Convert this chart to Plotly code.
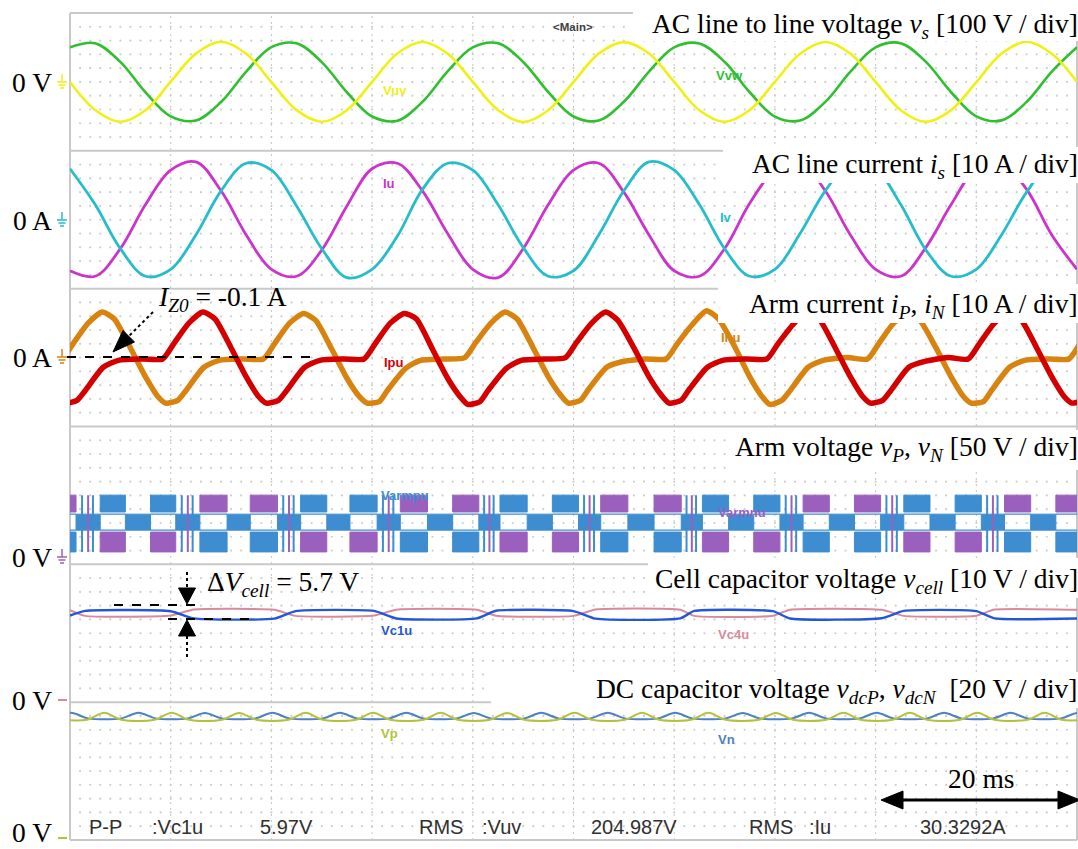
import plotly.graph_objects as go
import numpy as np

# ======================= DATA =======================
# time axis: ms, 10 ms / div
T_AC = [0, 2.5, 5, 7.5, 10, 12.5, 15, 17.5, 20, 22.5, 25, 27.5, 30, 32.5, 35, 37.5, 40,
        42.5, 45, 47.5, 50, 52.5, 55, 57.5, 60, 62.5, 65, 67.5, 70, 72.5, 75, 77.5, 80,
        82.5, 85, 87.5, 90, 92.5, 95, 97.5, 100]
# AC line-to-line voltages [V]
V_UV = [0, -204, -290, -206, 2, 205, 291, 204, -1, -205, -289, -205, 0, 206, 290, 205,
        1, -204, -291, -205, -1, 205, 289, 206, 0, -206, -290, -204, 1, 204, 290, 205,
        0, -205, -290, -205, -2, 205, 291, 204, 0]
V_VW = [251, 281, 145, -76, -250, -280, -146, 75, 252, 280, 144, -75, -251, -281, -145, 76,
        250, 280, 145, -74, -251, -280, -144, 75, 251, 279, 146, -75, -252, -280, -145, 74,
        251, 281, 145, -75, -250, -279, -145, 75, 251]
# AC line currents [A]
I_U = [-37, -41, -21, 11, 36, 42, 21, -11, -36, -41, -22, 10, 37, 41, 21, -10,
       -36, -42, -21, 11, 36, 41, 20, -11, -37, -41, -21, 12, 36, 42, 21, -11,
       -36, -41, -20, 11, 37, 41, 22, -11, -36]
I_V = [37, 11, -21, -41, -36, -11, 21, 41, 36, 10, -21, -42, -36, -12, 22, 41,
       36, 11, -20, -41, -37, -11, 21, 42, 36, 11, -21, -41, -36, -10, 21, 41,
       37, 11, -22, -41, -36, -11, 20, 41, 36]
# Arm currents [A]
T_INU = [-2.8, -0.8, 0.3, 1.8,
         3.2, 4.4, 6.0, 7.5, 8.7, 9.5, 10.7, 11.5, 13.3, 14.8, 17.2, 19.2, 20.3, 21.8,
         23.2, 24.4, 26.0, 27.5, 28.7, 29.5, 30.7, 31.5, 33.3, 34.8, 37.2, 39.2, 40.3, 41.8,
         43.2, 44.4, 46.0, 47.5, 48.7, 49.5, 50.7, 51.5, 53.3, 54.8, 57.2, 59.2, 60.3, 61.8,
         63.2, 64.4, 66.0, 67.5, 68.7, 69.5, 70.7, 71.5, 73.3, 74.8, 77.2, 79.2, 80.3, 81.8,
         83.2, 84.4, 86.0, 87.5, 88.7, 89.5, 90.7, 91.5, 93.3, 94.8, 97.2, 99.2, 100.3, 101.8]
I_NU = [-1, -1, 10, 25,
        33, 28, 7, -14, -28, -33, -31, -24, -7, -2, -1, -1, 10, 25,
        32, 27, 6, -15, -28, -33, -32, -24, -8, -2, -1, 0, 11, 25,
        33, 28, 7, -14, -27, -33, -31, -23, -7, -3, -1, -1, 10, 24,
        34, 28, 8, -14, -28, -34, -31, -24, -7, -2, 0, -1, 10, 25,
        32, 27, 7, -14, -28, -33, -32, -24, -7, -2, -1, -1, 10, 25]
T_IPU = [-2.5, -1.3, -0.5, 0.7, 1.5, 3.3, 4.8, 7.2, 9.2, 10.3, 11.8,
         13.2, 14.4, 16.0, 17.5, 18.7, 19.5, 20.7, 21.5, 23.3, 24.8, 27.2, 29.2, 30.3, 31.8,
         33.2, 34.4, 36.0, 37.5, 38.7, 39.5, 40.7, 41.5, 43.3, 44.8, 47.2, 49.2, 50.3, 51.8,
         53.2, 54.4, 56.0, 57.5, 58.7, 59.5, 60.7, 61.5, 63.3, 64.8, 67.2, 69.2, 70.3, 71.8,
         73.2, 74.4, 76.0, 77.5, 78.7, 79.5, 80.7, 81.5, 83.3, 84.8, 87.2, 89.2, 90.3, 91.8,
         93.2, 94.4, 96.0, 97.5, 98.7, 99.5, 100.7]
I_PU = [-14, -28, -33, -31, -24, -7, -2, -1, -1, 10, 25,
        33, 28, 7, -14, -28, -33, -31, -24, -7, -2, -1, -1, 10, 25,
        32, 28, 6, -15, -28, -34, -32, -24, -8, -2, -1, 0, 11, 25,
        33, 27, 7, -14, -27, -33, -31, -23, -7, -2, -1, -1, 10, 24,
        34, 28, 7, -14, -28, -33, -31, -24, -7, -3, 0, -1, 10, 25,
        33, 28, 7, -14, -28, -33, -31]
# Arm voltage: segments (ms) and kind  A: vP top / vN bottom, B: vP bottom / vN top,
# M: both in middle band, S: fast switching
ARM_T0 = [-2.0, 0.6, 3.0, 5.5, 8.0, 10.5, 12.9, 15.6, 17.9, 20.6, 22.9, 25.5, 27.8, 30.5,
          32.8, 35.5, 38.0, 40.6, 42.7, 45.4, 47.9, 50.5, 52.7, 55.4, 58.0, 60.7, 62.8,
          65.4, 67.9, 70.5, 72.8, 75.4, 77.9, 80.5, 82.8, 85.4, 87.9, 90.5, 92.8, 95.4, 97.9]
ARM_T1 = [0.6, 3.0, 5.5, 8.0, 10.5, 12.9, 15.6, 17.9, 20.6, 22.9, 25.5, 27.8, 30.5, 32.8,
          35.5, 38.0, 40.6, 42.7, 45.4, 47.9, 50.5, 52.7, 55.4, 58.0, 60.7, 62.8, 65.4,
          67.9, 70.5, 72.8, 75.4, 77.9, 80.5, 82.8, 85.4, 87.9, 90.5, 92.8, 95.4, 97.9, 100.5]
ARM_KIND = ["B", "S", "A", "M", "A", "S", "B", "M", "B", "S", "A", "M", "A", "S", "B", "M",
            "B", "S", "A", "M", "A", "S", "B", "M", "B", "S", "A", "M", "A", "S", "B", "M",
            "B", "S", "A", "M", "A", "S", "B", "M", "B"]
ARM_TOP = [165, 226]   # V
ARM_MID = [99, 157]    # V
ARM_BOT = [20, 92]     # V
# Cell capacitor voltages [V]
T_VC = [0, 1.5, 10, 12.3, 20.3, 22.4, 30.2, 32.4, 40.4, 42.3, 50, 52.2, 60.6, 62, 69.8,
        71.5, 80.6, 82.8, 90, 91.8, 100]
V_C1U = [61.8, 65.2, 65.0, 59.8, 59.6, 65.1, 65.2, 59.7, 59.8, 65.3, 65.1, 59.6, 59.8,
         65.2, 65.0, 59.7, 59.9, 65.2, 65.1, 59.8, 59.7]
V_C4U = [65.8, 61.6, 61.8, 66.2, 66.0, 61.6, 61.8, 66.1, 66.0, 61.7, 61.6, 66.2, 66.0,
         61.6, 61.7, 66.1, 66.0, 61.6, 61.7, 66.2, 66.0]
# DC capacitor voltages [V]
T_VN = [-1.6, 0.1, 1.8, 5.1, 6.8, 8.5, 11.7, 13.4, 15.1, 18.4, 20.1, 21.8, 25.1, 26.8, 28.5,
        31.7, 33.4, 35.1, 38.4, 40.1, 41.8, 45.1, 46.8, 48.5, 51.7, 53.4, 55.1, 58.4, 60.1,
        61.8, 65.1, 66.8, 68.5, 71.7, 73.4, 75.1, 78.4, 80.1, 81.8, 85.1, 86.8, 88.5, 91.7,
        93.4, 95.1, 98.4, 100.1, 101.8]
V_N = [173.5, 181.5, 173.5, 173.5, 181.8, 173.5, 173.5, 181.2, 173.5, 173.5, 181.5, 173.5,
       173.5, 181.6, 173.5, 173.5, 181.5, 173.5, 173.5, 181.3, 173.5, 173.5, 181.5, 173.5,
       173.5, 181.7, 173.5, 173.5, 181.5, 173.5, 173.5, 181.4, 173.5, 173.5, 181.5, 173.5,
       173.5, 181.6, 173.5, 173.5, 181.5, 173.5, 173.5, 181.5, 173.5, 173.5, 181.5, 173.5]
T_VP = [-1, 1.7, 3.4, 5.1, 8.4, 10.1, 11.8, 15.1, 16.8, 18.5, 21.7, 23.4, 25.1, 28.4, 30.1,
        31.8, 35.1, 36.8, 38.5, 41.7, 43.4, 45.1, 48.4, 50.1, 51.8, 55.1, 56.8, 58.5, 61.7,
        63.4, 65.1, 68.4, 70.1, 71.8, 75.1, 76.8, 78.5, 81.7, 83.4, 85.1, 88.4, 90.1, 91.8,
        95.1, 96.8, 98.5, 101]
V_P = [171.5, 171.5, 181.5, 171.5, 171.5, 181.7, 171.5, 171.5, 181.4, 171.5, 171.5, 181.5,
       171.5, 171.5, 181.6, 171.5, 171.5, 181.5, 171.5, 171.5, 181.3, 171.5, 171.5, 181.5,
       171.5, 171.5, 181.7, 171.5, 171.5, 181.5, 171.5, 171.5, 181.4, 171.5, 171.5, 181.5,
       171.5, 171.5, 181.6, 171.5, 171.5, 181.5, 171.5, 171.5, 181.5, 171.5, 171.5]

PANEL_TITLES = [
    "AC line to line voltage <i>v<sub>s</sub></i> [100 V / div]",
    "AC line current <i>i<sub>s</sub></i> [10 A / div]",
    "Arm current <i>i<sub>P</sub></i>, <i>i<sub>N</sub></i> [10 A / div]",
    "Arm voltage <i>v<sub>P</sub></i>, <i>v<sub>N</sub></i> [50 V / div]",
    "Cell capacitor voltage <i>v<sub>cell</sub></i> [10 V / div]",
    "DC capacitor voltage <i>v<sub>dcP</sub></i>, <i>v<sub>dcN</sub></i>  [20 V / div]",
]
ZERO_LABELS = ["0 V", "0 A", "0 A", "0 V", "0 V", "0 V"]
Y_RANGES = [(-500, 500), (-50, 50), (-50, 50), (-25, 475), (-1, 99), (-3, 197)]
STATUS_TEXT = ["P-P", ":Vc1u", "5.97V", "RMS", ":Vuv", "204.987V", "RMS", ":Iu", "30.3292A"]
TRACE_NAMES = ["Vuv", "Vvw", "Iu", "Iv", "Ipu", "Inu", "Varmpu", "Varmnu", "Vc1u", "Vc4u", "Vp", "Vn"]

# ======================= LAYOUT HELPERS =======================
W, H = 1078, 849
ML, MR, MT, MB = 70, 1, 13, 9
PW, PH = W - ML - MR, H - MT - MB


def XP(x):
    return (x - ML) / PW


def YP(y):
    return (H - MB - y) / PH


SERIF = "Liberation Serif"
SANS = "Liberation Sans"

C_YEL, C_GRN = "#f0f014", "#2fbf2f"
C_MAG, C_CYN = "#cc33cc", "#25bccb"
C_RED, C_ORG = "#d40000", "#d8830f"
C_ABLU, C_APUR = "#3d8dd0", "#9b60bd"
C_VC1, C_VC4 = "#2456d8", "#d88a9c"
C_VP, C_VN = "#b4c23a", "#4d80c4"
C_SEP = "#c9c9c9"

fig = go.Figure()
yname = ["y", "y2", "y3", "y4", "y5", "y6"]

# grid dots
for k in range(6):
    lo, hi = Y_RANGES[k]
    step = (hi - lo) / 10
    gx, gy = np.meshgrid(np.arange(1, 100), lo + step * np.arange(1, 10))
    fig.add_trace(go.Scatter(x=gx.ravel(), y=gy.ravel(), yaxis=yname[k], mode="markers",
                             marker=dict(size=2.2, color="#cdcdcd"), hoverinfo="skip",
                             showlegend=False))


def line(x, y, k, color, width, shape="spline", smooth=1.0):
    fig.add_trace(go.Scatter(x=x, y=y, yaxis=yname[k], mode="lines",
                             line=dict(color=color, width=width, shape=shape,
                                       smoothing=smooth if shape == "spline" else None),
                             hoverinfo="skip", showlegend=False))


# panel 1
line(T_AC, V_VW, 0, C_GRN, 2.6)
line(T_AC, V_UV, 0, C_YEL, 2.6)
# panel 2
line(T_AC, I_U, 1, C_MAG, 2.8)
line(T_AC, I_V, 1, C_CYN, 2.8)
# panel 3
line(T_INU, I_NU, 2, C_ORG, 5.5, smooth=0.6)
line(T_IPU, I_PU, 2, C_RED, 5.5, smooth=0.6)


# panel 4 : arm voltages as filled bands
def rects(band):
    xs, ys = [], []
    for t0, t1, lo, hi in band:
        xs += [t0, t1, t1, t0, t0, None]
        ys += [lo, lo, hi, hi, lo, None]
    return xs, ys


pur, blu, blu_mid = [], [], []
for t0, t1, kd in zip(ARM_T0, ARM_T1, ARM_KIND):
    if kd == "A":
        blu.append((t0, t1, ARM_TOP[0], ARM_TOP[1]))
        pur.append((t0, t1, ARM_BOT[0], ARM_BOT[1]))
    elif kd == "B":
        pur.append((t0, t1, ARM_TOP[0], ARM_TOP[1]))
        blu.append((t0, t1, ARM_BOT[0], ARM_BOT[1]))
    else:
        blu_mid.append((t0, t1, ARM_MID[0], ARM_MID[1]))

for segs, col in ((pur, C_APUR), (blu, C_ABLU), (blu_mid, C_ABLU)):
    xs, ys = rects(segs)
    fig.add_trace(go.Scatter(x=xs, y=ys, yaxis="y4", mode="lines", fill="toself",
                             fillcolor=col, line=dict(color=col, width=1),
                             hoverinfo="skip", showlegend=False))

# switching spikes + thin edge lines in the block cells
sp_b_x, sp_b_y, sp_p_x, sp_p_y, ed_x, ed_y = [], [], [], [], [], []
for t0, t1, kd in zip(ARM_T0, ARM_T1, ARM_KIND):
    d = t1 - t0
    if kd == "S":
        for f in (0.25, 0.7):
            sp_b_x += [t0 + f * d, t0 + f * d, None]
            sp_b_y += [ARM_BOT[0], ARM_TOP[1], None]
        for f in (0.5,):
            sp_p_x += [t0 + f * d, t0 + f * d, None]
            sp_p_y += [ARM_BOT[0], ARM_TOP[1], None]
    elif kd in ("A", "B"):
        for lv in ARM_MID:
            ed_x += [t0, t1, None]
            ed_y += [lv, lv, None]
fig.add_trace(go.Scatter(x=ed_x, y=ed_y, yaxis="y4", mode="lines",
                         line=dict(color=C_ABLU, width=1.3), hoverinfo="skip", showlegend=False))
fig.add_trace(go.Scatter(x=sp_p_x, y=sp_p_y, yaxis="y4", mode="lines",
                         line=dict(color=C_APUR, width=2), hoverinfo="skip", showlegend=False))
fig.add_trace(go.Scatter(x=sp_b_x, y=sp_b_y, yaxis="y4", mode="lines",
                         line=dict(color=C_ABLU, width=2), hoverinfo="skip", showlegend=False))

# panel 5
line(T_VC, V_C4U, 4, C_VC4, 2.0, smooth=0.5)
line(T_VC, V_C1U, 4, C_VC1, 2.4, smooth=0.5)
# panel 6
line(T_VN, V_N, 5, C_VN, 2.0, smooth=0.9)
line(T_VP, V_P, 5, C_VP, 2.0, smooth=0.9)

# ======================= AXES =======================
lay = dict(
    width=W, height=H, margin=dict(l=ML, r=MR, t=MT, b=MB),
    paper_bgcolor="white", plot_bgcolor="white", showlegend=False,
    xaxis=dict(range=[0, 100], visible=False, fixedrange=True),
)
for k in range(6):
    key = "yaxis" if k == 0 else "yaxis%d" % (k + 1)
    lay[key] = dict(range=list(Y_RANGES[k]), domain=[1 - (k + 1) / 6, 1 - k / 6],
                    visible=False, anchor="x", fixedrange=True)
fig.update_layout(**lay)

shapes = []
# major vertical dotted lines
for m in range(1, 10):
    shapes.append(dict(type="line", xref="x", yref="paper", x0=10 * m, x1=10 * m, y0=0, y1=1,
                       line=dict(color="#c4c4c4", width=1, dash="2px,4px"), layer="below"))
# separators / borders
for k in range(7):
    shapes.append(dict(type="line", xref="paper", yref="paper", x0=0, x1=1, y0=k / 6, y1=k / 6,
                       line=dict(color=C_SEP, width=2), layer="below"))
for xx in (0, 1):
    shapes.append(dict(type="line", xref="paper", yref="paper", x0=xx, x1=xx, y0=0, y1=1,
                       line=dict(color=C_SEP, width=2), layer="below"))


def pline(x0, y0, x1, y1, color="black", width=2, dash="solid", layer="above"):
    shapes.append(dict(type="line", xref="paper", yref="paper", x0=XP(x0), y0=YP(y0),
                       x1=XP(x1), y1=YP(y1), line=dict(color=color, width=width, dash=dash),
                       layer=layer))


def tri(pts, color="black"):
    path = "M " + " L ".join("%f,%f" % (XP(a), YP(b)) for a, b in pts) + " Z"
    shapes.append(dict(type="path", xref="paper", yref="paper", path=path,
                       fillcolor=color, line=dict(color=color, width=1), layer="above"))


# white boxes behind titles
for x0, y0, x1, y1 in [(633, 8, 1079, 41), (723, 147, 1079, 183), (718, 284, 1079, 323),
                       (730, 430, 1079, 470), (648, 558, 1079, 598), (491, 672, 1079, 708)]:
    shapes.append(dict(type="rect", xref="paper", yref="paper", x0=XP(x0), x1=XP(x1),
                       y0=YP(y1), y1=YP(y0), fillcolor="white", line=dict(width=0),
                       layer="above"))

# ground markers
zero_px = [82, 220, 357, 557, 700, 838]
gcol = [C_YEL, C_CYN, C_ORG, C_APUR, C_VC4, C_VP]
for k in range(4):
    yc = zero_px[k]
    pline(62, yc - 8, 62, yc, gcol[k], 1.5)
    pline(57, yc, 67, yc, gcol[k], 1.5)
    pline(58.5, yc + 3, 65.5, yc + 3, gcol[k], 1.5)
    pline(60, yc + 6, 64, yc + 6, gcol[k], 1.5)
for k in (4, 5):
    pline(58, zero_px[k], 67, zero_px[k], gcol[k], 2)

# I_Z0 annotation
pline(67, 357, 310, 357, "black", 2, "dash")
pline(153, 312, 129, 336, "black", 2, "dot")
tri([(113, 352), (134.5, 342.0), (123.0, 330.5)])
# delta V_cell annotation
pline(114, 605, 204, 605, "black", 2, "dash")
pline(168, 619, 250, 619, "black", 2, "dash")
pline(187, 572, 187, 588, "black", 2, "dot")
pline(187, 636, 187, 659, "black", 2, "dot")
tri([(187, 604), (178.5, 588), (195.5, 588)])
tri([(187, 620), (178.5, 636), (195.5, 636)])
# 20 ms arrow
pline(900, 800, 1062, 800, "black", 3)
tri([(881, 800), (903, 791), (903, 809)])
tri([(1080, 800), (1058, 791), (1058, 809)])
fig.update_layout(shapes=shapes)

ann = []


def text(x, ybase, s, size=27.5, anchor="left", color="black", family=SERIF, shift=0.34):
    ann.append(dict(xref="paper", yref="paper", x=XP(x), y=YP(ybase - shift * size),
                    xanchor=anchor, yanchor="middle", text=s, showarrow=False,
                    font=dict(family=family, size=size, color=color), borderpad=0))


title_base = [35, 175, 315, 458, 590, 700]
for k in range(6):
    text(1079, title_base[k], PANEL_TITLES[k], anchor="right")
zero_base = [92, 230, 367, 567, 710, 842]
for k in range(6):
    text(53, zero_base[k], ZERO_LABELS[k], anchor="right")
text(157, 308, "<i>I<sub>Z0</sub></i> = -0.1 A")
text(206, 593, "Δ<i>V<sub>cell</sub></i> = 5.7 V")
text(981, 788, "20 ms", anchor="center")

status_x = [88, 151, 259, 418, 481, 590, 748, 808, 919]
for s, x in zip(STATUS_TEXT, status_x):
    text(x, 834, s, size=20, family=SANS, color="#303030")
text(573, 31, "<b>&lt;Main&gt;</b>", size=11.5, anchor="center", family=SANS, color="#404040")

name_pos = [(382, 90), (715, 75), (382, 183), (719, 217), (383, 362), (720, 337),
            (380, 495), (717, 512), (380, 630), (717, 634), (380, 733), (717, 739)]
name_col = [C_YEL, C_GRN, C_MAG, C_CYN, C_RED, C_ORG, C_ABLU, C_APUR, C_VC1, C_VC4, C_VP, C_VN]
for s, (x, yc), c in zip(TRACE_NAMES, name_pos, name_col):
    text(x, yc + 4.5, "<b>%s</b>" % s, size=13, family=SANS, color=c)

fig.update_layout(annotations=ann)
fig.write_html("out.html")
